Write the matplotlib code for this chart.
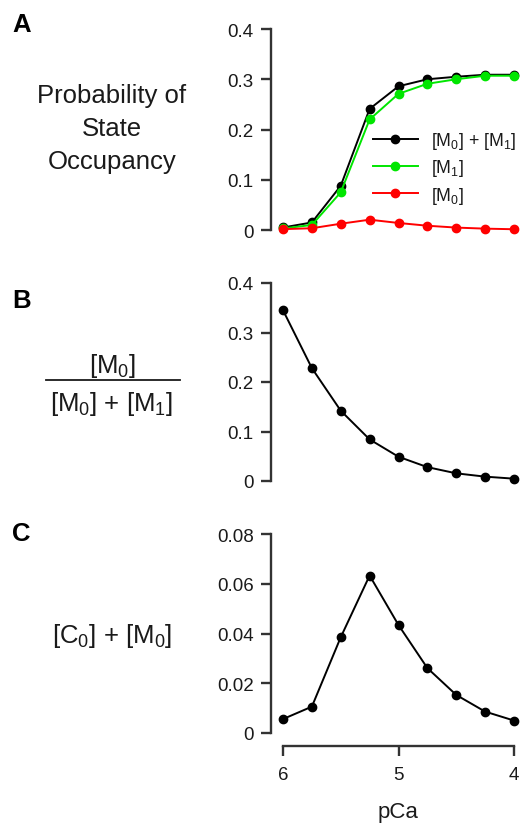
import numpy as np
import matplotlib
matplotlib.use('Agg')
import matplotlib.pyplot as plt
from matplotlib.lines import Line2D

plt.rcParams['font.family'] = ['Liberation Sans', 'DejaVu Sans']
plt.rcParams['mathtext.fontset'] = 'custom'
plt.rcParams['mathtext.rm'] = 'Liberation Sans'
plt.rcParams['mathtext.it'] = 'Liberation Sans:italic'

# data
pca = [6.0, 5.75, 5.5, 5.25, 5.0, 4.75, 4.5, 4.25, 4.0]
m0_plus_m1 = [0.005, 0.015, 0.088, 0.241, 0.286, 0.300, 0.305, 0.309, 0.309]
m1 = [0.003, 0.010, 0.075, 0.220, 0.271, 0.291, 0.300, 0.307, 0.307]
m0 = [0.0017, 0.0035, 0.0125, 0.0205, 0.014, 0.0085, 0.0048, 0.0027, 0.0015]
ratio = [0.345, 0.228, 0.142, 0.084, 0.049, 0.028, 0.0155, 0.0088, 0.0047]
c0_plus_m0 = [0.0056, 0.0106, 0.0385, 0.0633, 0.0434, 0.0261, 0.0153, 0.0086, 0.0050]

W, H = 523, 837
fig = plt.figure(figsize=(W / 100, H / 100), dpi=100)

spine_col = '#333333'
txt_col = '#1a1a1a'
tick_fs = 13.5

def make_axes(top_px, bot_px, ymax, yticks, ylabels, show_x=False):
    ax = fig.add_axes([283 / W, 1 - bot_px / H, 231 / W, (bot_px - top_px) / H])
    ax.set_xlim(6, 4)
    ax.set_ylim(0, ymax)
    for s in ['top', 'right']:
        ax.spines[s].set_visible(False)
    ax.spines['left'].set_position(('outward', 9))
    ax.spines['left'].set_bounds(0, ymax)
    ax.spines['left'].set_linewidth(1.7)
    ax.spines['left'].set_color(spine_col)
    ax.set_yticks(yticks)
    ax.set_yticklabels(ylabels)
    ax.tick_params(axis='y', direction='out', length=7.5, width=1.7, color=spine_col,
                   labelsize=tick_fs, labelcolor=txt_col, pad=4.5)
    if show_x:
        ax.spines['bottom'].set_position(('outward', 9))
        ax.spines['bottom'].set_bounds(6, 4)
        ax.spines['bottom'].set_linewidth(1.7)
        ax.spines['bottom'].set_color(spine_col)
        ax.set_xticks([6, 5, 4])
        ax.set_xticklabels(['6', '5', '4'])
        ax.tick_params(axis='x', direction='out', length=7.5, width=1.7, color=spine_col,
                       labelsize=tick_fs, labelcolor=txt_col, pad=7)
    else:
        ax.spines['bottom'].set_visible(False)
        ax.set_xticks([])
    ax.patch.set_visible(False)
    return ax

mk = dict(marker='o', markersize=6, linewidth=1.4, clip_on=False)

# panel A
axA = make_axes(30, 231, 0.4, [0, 0.1, 0.2, 0.3, 0.4], ['0', '0.1', '0.2', '0.3', '0.4'])
axA.plot(pca, m0_plus_m1, color='black', label='[M$_0$] + [M$_1$]', zorder=3, **mk)
axA.plot(pca, m1, color='#00e600', label='[M$_1$]', zorder=4, **mk)
axA.plot(pca, m0, color='#ff0000', label='[M$_0$]', zorder=5, **mk)
axA.legend(loc='center left', bbox_to_anchor=(0.39, 0.31), frameon=False, fontsize=12.8,
           borderpad=0, borderaxespad=0, handlelength=2.5, handletextpad=0.75,
           labelspacing=0.36, labelcolor=txt_col)

# panel B
axB = make_axes(284, 482, 0.4, [0, 0.1, 0.2, 0.3, 0.4], ['0', '0.1', '0.2', '0.3', '0.4'])
axB.plot(pca, ratio, color='black', **mk)

# panel C
axC = make_axes(535, 734, 0.08, [0, 0.02, 0.04, 0.06, 0.08],
                ['0', '0.02', '0.04', '0.06', '0.08'], show_x=True)
axC.plot(pca, c0_plus_m0, color='black', **mk)
fig.text(398 / W, 1 - 813 / H, 'pCa', ha='center', va='center', fontsize=16, color=txt_col)

# panel letters
for letter, ypx in [('A', 25), ('B', 301), ('C', 534)]:
    fig.text(12 / W, 1 - ypx / H, letter, ha='left', va='center', fontsize=18.5,
             fontweight='bold')

# left-hand labels
xc = 112 / W
lab_fs = 18.5
fig.text(xc, 1 - 129 / H, 'Probability of\nState\nOccupancy', ha='center', va='center',
         fontsize=lab_fs, linespacing=1.5, color=txt_col)
fig.text(xc, 1 - 366 / H, '[M$_0$]', ha='center', va='center', fontsize=lab_fs, color=txt_col)
fig.add_artist(Line2D([46 / W, 180 / W], [1 - 381 / H, 1 - 381 / H], color=txt_col,
                      linewidth=1.3, transform=fig.transFigure))
fig.text(xc, 1 - 404 / H, '[M$_0$] + [M$_1$]', ha='center', va='center', fontsize=lab_fs,
         color=txt_col)
fig.text(xc, 1 - 636 / H, '[C$_0$] + [M$_0$]', ha='center', va='center', fontsize=lab_fs,
         color=txt_col)

fig.savefig('out.png', dpi=100)
